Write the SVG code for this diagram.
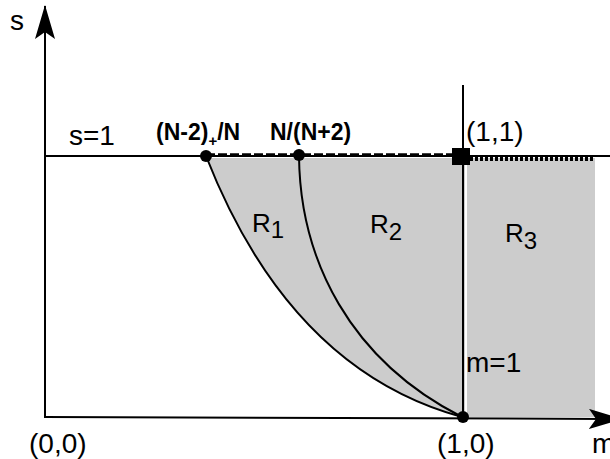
<svg xmlns="http://www.w3.org/2000/svg" width="610" height="459" viewBox="0 0 610 459">
<style>
text{font-family:"Liberation Sans",Arial,sans-serif;fill:#000}
.lbl{font-size:28px}
.b{font-size:23px;font-weight:bold}
.r{font-size:26px}
.sub{font-size:24px}
.ln{stroke:#000;fill:none;stroke-width:2}
</style>
<defs>
<marker id="ah" markerWidth="34" markerHeight="20" viewBox="0 0 34 20" refX="33" refY="10" orient="auto" markerUnits="userSpaceOnUse">
<path d="M0,0 L34,10 L0,20 L7,10 Z" fill="#000"/>
</marker>
</defs>
<rect width="610" height="459" fill="#fff"/>
<g id="regions">
<path d="M206,158 Q290,370 462,417 L595,417 L595,158 Z" fill="#cccccc"/>
<line x1="466" y1="158" x2="466" y2="416" stroke="#fff" stroke-width="2"/>
</g>
<g id="connectors">
<line class="ln" x1="45" y1="418" x2="45" y2="6" marker-end="url(#ah)"/>
<line class="ln" x1="44" y1="417" x2="622" y2="419" marker-end="url(#ah)" stroke-width="2.5"/>
<line class="ln" x1="45" y1="156" x2="610" y2="156"/>
<line x1="206" y1="155" x2="455" y2="155" stroke="#000" stroke-width="3.5" stroke-dasharray="9,3"/>
<line x1="470" y1="159" x2="594" y2="159" stroke="#000" stroke-width="4" stroke-dasharray="3,2"/>
<line class="ln" x1="463" y1="85" x2="463" y2="418"/>
<path class="ln" d="M206,156 Q290,370 462,417"/>
<path class="ln" d="M299,156 C300,260 350,360 462,417"/>
</g>
<g id="p1"><circle cx="206" cy="156" r="6"/></g>
<g id="p2"><circle cx="299" cy="155" r="6"/></g>
<g id="p3"><rect x="452" y="148" width="18" height="17"/></g>
<g id="p4"><circle cx="463" cy="417" r="6"/></g>
<g id="labels">
<text class="lbl" x="10" y="30">s</text>
<text class="lbl" x="69" y="145">s=1</text>
<text class="b" x="156" y="140">(N-2)<tspan font-size="15" dy="6">+</tspan><tspan dy="-6">/N</tspan></text>
<text class="b" x="270" y="140">N/(N+2)</text>
<text class="lbl" x="466" y="141">(1,1)</text>
<text class="r" x="252" y="232">R<tspan class="sub" dy="6">1</tspan></text>
<text class="r" x="370" y="233">R<tspan class="sub" dy="7">2</tspan></text>
<text class="r" x="505" y="242">R<tspan class="sub" dy="7">3</tspan></text>
<text class="lbl" x="466" y="372">m=1</text>
<text class="lbl" x="29" y="453">(0,0)</text>
<text class="lbl" x="437" y="453">(1,0)</text>
<text class="lbl" x="592" y="453">m</text>
</g>
</svg>
